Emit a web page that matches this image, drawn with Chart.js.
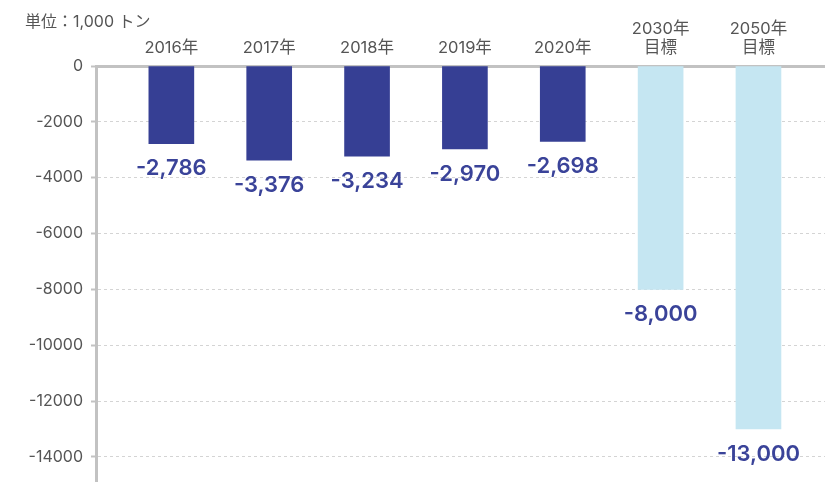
<!DOCTYPE html>
<html lang="ja">
<head>
<meta charset="utf-8">
<style>
  html, body { margin: 0; padding: 0; background: #fff; }
  #wrap { position: relative; width: 825px; height: 482px; }
  #unit {
    position: absolute; left: 25px; top: 8px;
    font: 16px Inter, "Noto Sans CJK JP", sans-serif; color: #555;
  }
</style>
<script src="https://cdn.jsdelivr.net/npm/chart.js@4/dist/chart.umd.min.js"></script>
</head>
<body>
<div id="wrap">
  <canvas id="balanceChart" width="825" height="482"></canvas>
  <div id="unit">単位：1,000 トン</div>
</div>
<script>
const labels = ['2016年', '2017年', '2018年', '2019年', '2020年', ['2030年', '目標'], ['2050年', '目標']];
const actualValues = [-2786, -3376, -3234, -2970, -2698];
const targetValues = [-8000, -13000];
const yTicks = [0, -2000, -4000, -6000, -8000, -10000, -12000, -14000];

const FONT = 'Inter, "Noto Sans CJK JP", sans-serif';
Chart.defaults.font.family = FONT;

// bar value printed just under the end of each bar
const valueLabels = {
  id: 'valueLabels',
  afterDatasetsDraw(chart) {
    const ctx = chart.ctx;
    ctx.save();
    ctx.font = '600 22px ' + FONT;
    ctx.fillStyle = '#3a4399';
    ctx.textAlign = 'center';
    ctx.textBaseline = 'middle';
    chart.data.datasets.forEach((ds, i) => {
      chart.getDatasetMeta(i).data.forEach((bar, j) => {
        const v = ds.data[j].y;
        ctx.fillText(v.toLocaleString('en-US'), bar.x, bar.y + 25);
      });
    });
    ctx.restore();
  }
};

const actualData = actualValues.map((v, i) => ({ x: i, y: v }));
const targetData = targetValues.map((v, i) => ({ x: actualValues.length + i, y: v }));

new Chart(document.getElementById('balanceChart'), {
  type: 'bar',
  data: {
    datasets: [
      { data: actualData, backgroundColor: '#363f94', barThickness: 45, grouped: false },
      { data: targetData, backgroundColor: '#c5e6f2', barThickness: 45, grouped: false }
    ]
  },
  options: {
    responsive: false,
    animation: false,
    layout: { padding: { left: 22, right: 0, top: 0, bottom: 0 } },
    plugins: { legend: { display: false }, tooltip: { enabled: false } },
    scales: {
      x: {
        type: 'linear',
        position: 'top',
        offset: false,
        min: -0.77,
        max: 6.68,
        afterBuildTicks: s => { s.ticks = labels.map((_, i) => ({ value: i })); },
        afterFit: s => { s.height = 66; },
        ticks: {
          color: '#555',
          font: { size: 16.5, lineHeight: 1.18 },
          padding: 8,
          maxRotation: 0,
          autoSkip: false,
          callback: v => labels[v]
        },
        grid: { display: false, drawTicks: false },
        border: { color: '#c2c2c2', width: 3 }
      },
      y: {
        min: -14900,
        max: 0,
        afterBuildTicks: s => { s.ticks = yTicks.map(v => ({ value: v })); },
        afterFit: s => { s.width = 74; s.paddingTop = 0; s.paddingBottom = 0; },
        ticks: {
          color: '#555',
          font: { size: 16 },
          padding: 8,
          callback: v => String(v)
        },
        grid: { color: '#d4d4d4', lineWidth: 1, tickColor: '#c2c2c2', tickLength: 5, tickWidth: 2 },
        border: { color: '#c2c2c2', width: 3, dash: [3, 3] }
      }
    }
  },
  plugins: [valueLabels]
});
</script>
</body>
</html>
